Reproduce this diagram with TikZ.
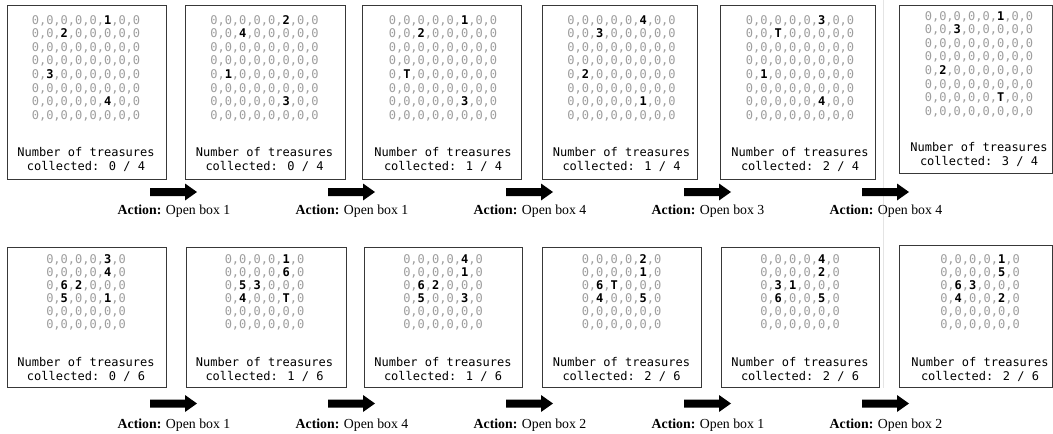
\documentclass[tikz,border=0pt]{standalone}
\usepackage{fontspec}
\setmainfont{Liberation Serif}
\newfontfamily\gridfont{DejaVu Sans Mono}
\definecolor{zerogray}{HTML}{9E9E9E}
\definecolor{framegray}{HTML}{383838}
\definecolor{seamgray}{HTML}{E4E4E4}

% a revealed box value: bold and black among the grey zeros
\newcommand\tb[1]{{\color{black}\bfseries #1}}
% 8x8 board with four boxes (row1 col6, row2 col3, row5 col2, row7 col6)
\newcommand\bigboard[4]{0,0,0,0,0,\tb{#1},0,0\\0,0,\tb{#2},0,0,0,0,0\\0,0,0,0,0,0,0,0\\0,0,0,0,0,0,0,0\\0,\tb{#3},0,0,0,0,0,0\\0,0,0,0,0,0,0,0\\0,0,0,0,0,\tb{#4},0,0\\0,0,0,0,0,0,0,0}
% 6x6 board with six boxes
\newcommand\smallboard[6]{0,0,0,0,\tb{#1},0\\0,0,0,0,\tb{#2},0\\0,\tb{#3},\tb{#4},0,0,0\\0,\tb{#5},0,0,\tb{#6},0\\0,0,0,0,0,0\\0,0,0,0,0,0}
% block arrow centred on a named coordinate
\newcommand\blockarrow[1]{\fill[black] (#1) ++(-24,-4) -- ++(35,0) -- ++(0,-4.5) -- ++(12,8.5) -- ++(-12,8.5) -- ++(0,-4.5) -- ++(-35,0) -- cycle;}

\tikzset{
  panel/.style={draw=framegray, line width=0.8pt, fill=white, inner sep=0pt},
  board/.style={font=\gridfont\fontsize{12}{13.6}\selectfont, text=zerogray, align=center, inner sep=0pt},
  smallgrid/.style={font=\gridfont\fontsize{12}{13}\selectfont, text=zerogray, align=center, inner sep=0pt},
  tally/.style={font=\gridfont\fontsize{12}{14}\selectfont, text=black, align=center, inner sep=0pt},
  action/.style={font=\fontsize{13.8}{16}\selectfont, text=black, inner sep=0pt},
}

\begin{document}
\begin{tikzpicture}[x=1pt, y=-1pt]
\useasboundingbox (0,0) rectangle (1053,434);
\fill[white] (0,0) rectangle (1053,434);
\draw[seamgray, line width=0.7pt] (883,0) -- (883,388);

% ---- first episode: 8x8 board, four treasures ----
\node[panel, minimum width=159pt, minimum height=174pt] (t1) at (86.5,92) {};
\node[board] (tg1) at (86,68) {\bigboard{1}{2}{3}{4}};
\node[tally] (tc1) at (86,159) {Number of treasures\\collected: 0 / 4};

\node[panel, minimum width=160pt, minimum height=174pt] (t2) at (265,92) {};
\node[board] (tg2) at (264.5,68) {\bigboard{2}{4}{1}{3}};
\node[tally] (tc2) at (264.5,159) {Number of treasures\\collected: 0 / 4};

\node[panel, minimum width=159pt, minimum height=174pt] (t3) at (442,92) {};
\node[board] (tg3) at (443,68) {\bigboard{1}{2}{T}{3}};
\node[tally] (tc3) at (443,159) {Number of treasures\\collected: 1 / 4};

\node[panel, minimum width=155pt, minimum height=174pt] (t4) at (620,92) {};
\node[board] (tg4) at (621.5,68) {\bigboard{4}{3}{2}{1}};
\node[tally] (tc4) at (621.5,159) {Number of treasures\\collected: 1 / 4};

\node[panel, minimum width=155pt, minimum height=174pt] (t5) at (797.5,92) {};
\node[board] (tg5) at (800,68) {\bigboard{3}{T}{1}{4}};
\node[tally] (tc5) at (800,159) {Number of treasures\\collected: 2 / 4};

\node[panel, minimum width=153pt, minimum height=168pt] (t6) at (975.5,89) {};
\node[board] (tg6) at (979,64) {\bigboard{1}{3}{2}{T}};
\node[tally] (tc6) at (979,154) {Number of treasures\\collected: 3 / 4};

\coordinate (ta1) at (174,192);
\coordinate (ta2) at (352,192);
\coordinate (ta3) at (530,192);
\coordinate (ta4) at (708,192);
\coordinate (ta5) at (886,192);
\blockarrow{ta1}\blockarrow{ta2}\blockarrow{ta3}\blockarrow{ta4}\blockarrow{ta5}
\node[action] (tl1) at (174,211) {\textbf{Action:} Open box 1};
\node[action] (tl2) at (352,211) {\textbf{Action:} Open box 1};
\node[action] (tl3) at (530,211) {\textbf{Action:} Open box 4};
\node[action] (tl4) at (708,211) {\textbf{Action:} Open box 3};
\node[action] (tl5) at (886,211) {\textbf{Action:} Open box 4};

% ---- second episode: 6x6 board, six treasures ----
\node[panel, minimum width=159pt, minimum height=140pt] (b1) at (86.5,317) {};
\node[smallgrid] (bg1) at (86,292) {\smallboard{3}{4}{6}{2}{5}{1}};
\node[tally] (bc1) at (86,369) {Number of treasures\\collected: 0 / 6};

\node[panel, minimum width=160pt, minimum height=140pt] (b2) at (266,317) {};
\node[smallgrid] (bg2) at (264.5,292) {\smallboard{1}{6}{5}{3}{4}{T}};
\node[tally] (bc2) at (264.5,369) {Number of treasures\\collected: 1 / 6};

\node[panel, minimum width=158pt, minimum height=140pt] (b3) at (443,317) {};
\node[smallgrid] (bg3) at (443,292) {\smallboard{4}{1}{6}{2}{5}{3}};
\node[tally] (bc3) at (443,369) {Number of treasures\\collected: 1 / 6};

\node[panel, minimum width=159pt, minimum height=140pt] (b4) at (621.5,317) {};
\node[smallgrid] (bg4) at (621.5,292) {\smallboard{2}{1}{6}{T}{4}{5}};
\node[tally] (bc4) at (621.5,369) {Number of treasures\\collected: 2 / 6};

\node[panel, minimum width=158pt, minimum height=140pt] (b5) at (800,317) {};
\node[smallgrid] (bg5) at (800,292) {\smallboard{4}{2}{3}{1}{6}{5}};
\node[tally] (bc5) at (800,369) {Number of treasures\\collected: 2 / 6};

\node[panel, minimum width=153pt, minimum height=142pt] (b6) at (975.5,316) {};
\node[smallgrid] (bg6) at (980,292) {\smallboard{1}{5}{6}{3}{4}{2}};
\node[tally] (bc6) at (980,369) {Number of treasures\\collected: 2 / 6};

\coordinate (ba1) at (174,403.5);
\coordinate (ba2) at (352,403.5);
\coordinate (ba3) at (530,403.5);
\coordinate (ba4) at (708,403.5);
\coordinate (ba5) at (886,403.5);
\blockarrow{ba1}\blockarrow{ba2}\blockarrow{ba3}\blockarrow{ba4}\blockarrow{ba5}
\node[action] (bl1) at (174,425) {\textbf{Action:} Open box 1};
\node[action] (bl2) at (352,425) {\textbf{Action:} Open box 4};
\node[action] (bl3) at (530,425) {\textbf{Action:} Open box 2};
\node[action] (bl4) at (708,425) {\textbf{Action:} Open box 1};
\node[action] (bl5) at (886,425) {\textbf{Action:} Open box 2};
\end{tikzpicture}
\end{document}
